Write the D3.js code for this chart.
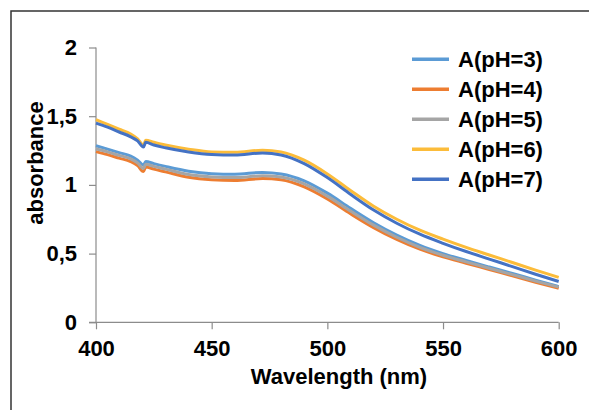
<!DOCTYPE html>
<html><head><meta charset="utf-8">
<script src="https://cdn.jsdelivr.net/npm/d3@7"></script>
<style>
html,body{margin:0;padding:0;background:#fff;}
svg{display:block;}
text{font-family:"Liberation Sans",Arial,sans-serif;font-weight:bold;fill:#000;}
</style></head>
<body><svg id="c" width="589" height="410"></svg>
<script>
const wavelengths = [400,405,410,415,418,420.5,421.5,425,430,440,450,460,472,480,490,500,510,520,530,540,550,560,570,580,590,600];
const pH3 = [1.285,1.26,1.235,1.21,1.18,1.145,1.17,1.155,1.135,1.10,1.082,1.078,1.091,1.08,1.03,0.94,0.83,0.725,0.635,0.56,0.50,0.45,0.402,0.355,0.307,0.26];
const pH4 = [1.242,1.22,1.195,1.17,1.14,1.097,1.13,1.115,1.095,1.055,1.037,1.032,1.046,1.037,0.985,0.897,0.79,0.689,0.603,0.532,0.476,0.43,0.384,0.338,0.292,0.247];
const pH5 = [1.263,1.24,1.215,1.19,1.16,1.12,1.15,1.135,1.115,1.075,1.058,1.053,1.066,1.057,1.007,0.918,0.81,0.707,0.619,0.546,0.488,0.44,0.393,0.347,0.30,0.256];
const pH6 = [1.475,1.44,1.405,1.37,1.335,1.29,1.325,1.31,1.29,1.26,1.24,1.238,1.252,1.24,1.18,1.08,0.96,0.845,0.75,0.67,0.605,0.545,0.49,0.435,0.38,0.327];
const pH7 = [1.45,1.42,1.385,1.35,1.32,1.275,1.31,1.29,1.27,1.24,1.222,1.218,1.232,1.218,1.155,1.053,0.932,0.817,0.721,0.641,0.575,0.515,0.46,0.405,0.35,0.297];
const seriesNames = ["A(pH=3)","A(pH=4)","A(pH=5)","A(pH=6)","A(pH=7)"];
const seriesValues = [pH3,pH4,pH5,pH6,pH7];
const colors = ["#5B9BD5","#ED7D31","#A5A5A5","#FCBC3A","#4472C4"];
const xTicks = [400,450,500,550,600];
const yTicks = [0,0.5,1,1.5,2];
const yTickLabels = ["0","0,5","1","1,5","2"];

const svg = d3.select("#c");
const x = d3.scaleLinear().domain([400,600]).range([96,558.7]);
const y = d3.scaleLinear().domain([0,2]).range([322.3,47.5]);

// outer frame (top and left edges visible)
svg.append("path").attr("d","M11,410 L11,11 L589,11").attr("fill","none").attr("stroke","#333").attr("stroke-width",1.5);

const axisColor = "#8c8c8c";
const gy = svg.append("g").attr("transform",`translate(${x(400)},0)`)
  .call(d3.axisLeft(y).tickValues(yTicks).tickFormat((d,i)=>yTickLabels[i]).tickSize(7).tickPadding(12));
const gx = svg.append("g").attr("transform",`translate(0,${y(0)})`)
  .call(d3.axisBottom(x).tickValues(xTicks).tickFormat(d3.format("d")).tickSize(7).tickPadding(11));
[gx,gy].forEach(g=>{
  g.select(".domain").attr("stroke",axisColor).attr("stroke-width",1.2);
  g.selectAll(".tick line").attr("stroke",axisColor).attr("stroke-width",1.2);
  g.selectAll(".tick text").attr("font-size",22).attr("font-family","Liberation Sans, Arial, sans-serif").attr("font-weight","bold").attr("fill","#000");
});
gy.select(".domain").attr("d",`M0,${y(2)}V${y(0)}`);
gx.select(".domain").attr("d",`M${x(400)-7},0H${x(600)}`);

const line = d3.line().x((d,i)=>x(wavelengths[i])).y(d=>y(d)).curve(d3.curveMonotoneX);
seriesValues.forEach((vals,k)=>{
  svg.append("path").datum(vals).attr("d",line).attr("fill","none")
    .attr("stroke",colors[k]).attr("stroke-width",3).attr("stroke-linejoin","round");
});

// axis titles
svg.append("text").attr("x",339).attr("y",384).attr("text-anchor","middle").attr("font-size",22).text("Wavelength (nm)");
svg.append("text").attr("transform","translate(43,163) rotate(-90)").attr("text-anchor","middle").attr("font-size",22).text("absorbance");

// legend
const leg = svg.append("g");
seriesNames.forEach((n,k)=>{
  const cy = 59.3 + k*30;
  leg.append("line").attr("x1",412).attr("x2",449).attr("y1",cy).attr("y2",cy).attr("stroke",colors[k]).attr("stroke-width",3.5);
  leg.append("text").attr("x",458).attr("y",cy+8).attr("font-size",22).text(n);
});
</script></body></html>
